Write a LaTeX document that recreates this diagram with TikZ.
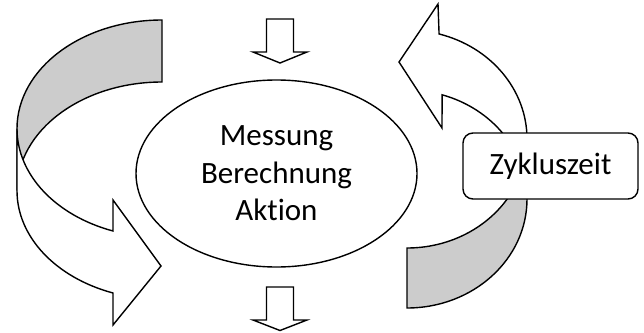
\documentclass[tikz,border=0pt]{standalone}
\usepackage{fontspec}
\setmainfont{Carlito}[Ligatures=NoCommon]
\usetikzlibrary{shapes.geometric}
\definecolor{bandback}{gray}{0.8}
\tikzset{
  outline/.style={draw=black, line width=1.4pt, line join=miter},
  backband/.style={outline, fill=bandback},
  frontband/.style={outline, fill=white},
  bigtext/.style={font=\fontsize{31}{37.5}\selectfont, text=black, align=center},
}
\begin{document}
\begin{tikzpicture}[x=1pt, y=-1pt]
\useasboundingbox (0,0) rectangle (644,332);

% left curved band: grey back side on top, white front with head pointing right
\path[backband] (17,128.7)
  arc[start angle=180, end angle=270, x radius=145, y radius=108.7]
  -- (162,82)
  arc[start angle=270, end angle=180, x radius=145, y radius=108.7]
  -- cycle;
\path[frontband] (17,128.7)
  arc[start angle=180, end angle=109.75, x radius=145, y radius=108.7]
  -- (113,200) -- (161,266) -- (113,325) -- (113,293)
  arc[start angle=109.75, end angle=180, x radius=145, y radius=108.7]
  -- cycle;

% right curved band: grey back side below, white front with head pointing left
\path[backband] (527,139)
  arc[start angle=0, end angle=90, x radius=120, y radius=109]
  -- (407,308)
  arc[start angle=90, end angle=0, x radius=120, y radius=109]
  -- cycle;
\path[frontband] (527,139)
  arc[start angle=0, end angle=-74.5, x radius=120, y radius=109]
  -- (438,4) -- (399,62) -- (442,128) -- (442.1,94.8)
  arc[start angle=-73, end angle=0, x radius=120, y radius=109]
  -- cycle;

% central process
\node[ellipse, outline, fill=white, minimum width=281pt, minimum height=187pt,
      inner sep=0pt, bigtext] (core) at (276.5,173.5)
  {Messung\\Berechnung\\Aktion};

% input and output block arrows
\path[frontband] (266.5,19) -- (293.5,19) -- (293.5,52) -- (307,52)
  -- (280,63) -- (253,52) -- (266.5,52) -- cycle;
\path[frontband] (266.5,287) -- (293.5,287) -- (293.5,320) -- (307,320)
  -- (280,330.5) -- (253,320) -- (266.5,320) -- cycle;

% cycle time label
\node[outline, rounded corners=10pt, fill=white, minimum width=175pt,
      minimum height=66pt, inner sep=0pt, bigtext] (zeit) at (550.5,166)
  {Zykluszeit};
\end{tikzpicture}
\end{document}
